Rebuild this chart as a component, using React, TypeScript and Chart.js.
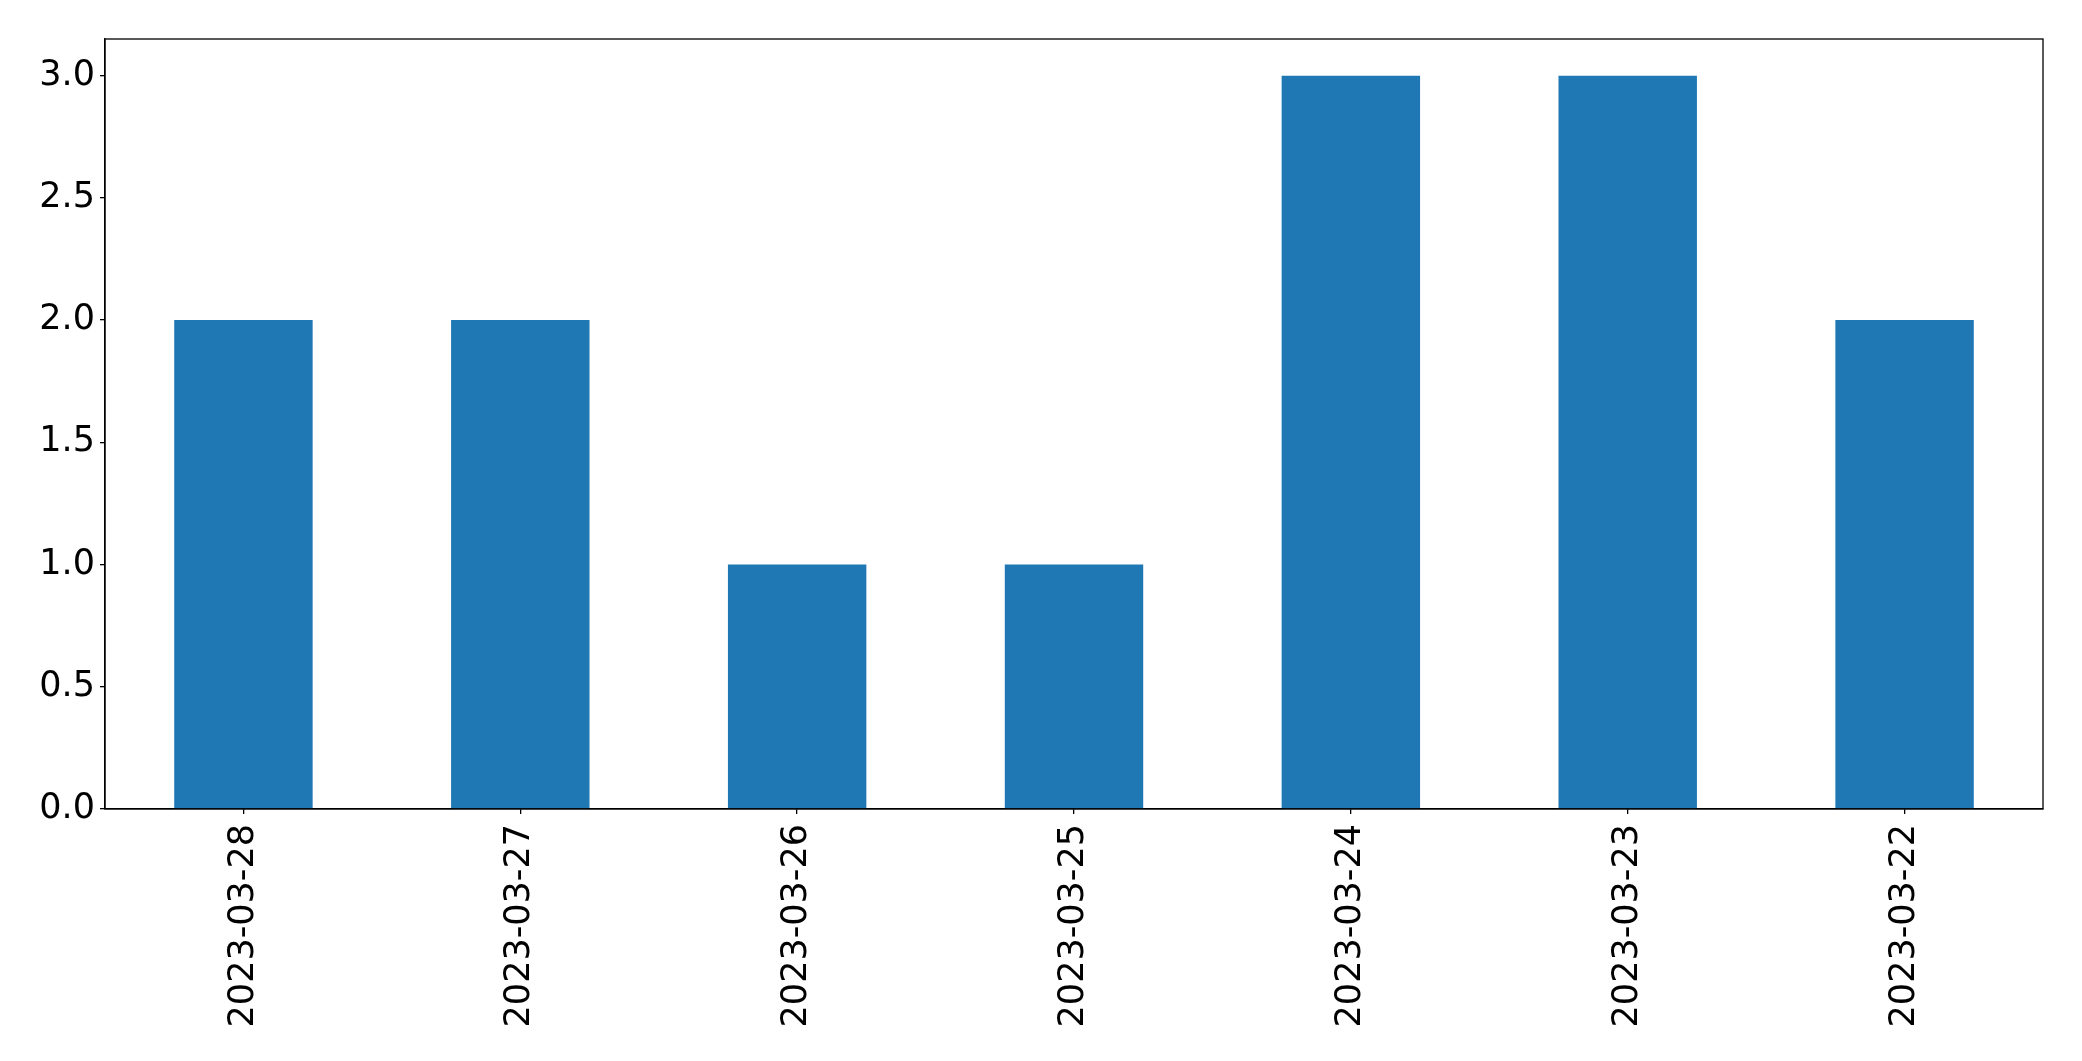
import React, { useEffect, useRef } from "react";
import { Chart, registerables } from "chart.js";

Chart.register(...registerables);

const categories = [
  "2023-03-28",
  "2023-03-27",
  "2023-03-26",
  "2023-03-25",
  "2023-03-24",
  "2023-03-23",
  "2023-03-22",
];
const values = [2, 2, 1, 1, 3, 3, 2];
const yTicks = [0, 0.5, 1, 1.5, 2, 2.5, 3];

const W = 2082;
const H = 1061;
const PLOT_LEFT = 105;
const PLOT_TOP = 39;
const PLOT_RIGHT = 2043;
const PLOT_BOTTOM = 809;

const frame = {
  id: "frame",
  afterDatasetsDraw(chart: any) {
    const { ctx, chartArea } = chart;
    ctx.save();
    ctx.strokeStyle = "#000";
    ctx.lineWidth = 1.3;
    ctx.strokeRect(chartArea.left, chartArea.top, chartArea.right - chartArea.left, chartArea.bottom - chartArea.top);
    ctx.restore();
  },
};

export default function App() {
  const ref = useRef<HTMLCanvasElement | null>(null);
  useEffect(() => {
    document.body.style.margin = "0";
    const font = { family: "'DejaVu Sans', sans-serif", size: 35 };
    const chart = new Chart(ref.current as HTMLCanvasElement, {
      type: "bar",
      data: {
        labels: categories,
        datasets: [
          {
            data: values,
            backgroundColor: "#1f77b4",
            barPercentage: 0.5,
            categoryPercentage: 1,
          },
        ],
      },
      options: {
        animation: false,
        responsive: false,
        maintainAspectRatio: false,
        layout: { padding: { left: 0, top: PLOT_TOP, right: W - PLOT_RIGHT, bottom: 0 } },
        plugins: { legend: { display: false }, tooltip: { enabled: false } },
        scales: {
          x: {
            grid: { display: true, offset: false, drawOnChartArea: false, drawTicks: true, tickLength: 5, color: "#000", lineWidth: 1.3 },
            border: { display: true, color: "#000", width: 1.3 },
            ticks: { color: "#000", font, minRotation: 90, maxRotation: 90, padding: 10, autoSkip: false },
            afterFit(scale: any) {
              scale.height = H - PLOT_BOTTOM;
            },
          },
          y: {
            min: 0,
            max: 3.15,
            grid: { display: true, drawOnChartArea: false, drawTicks: true, tickLength: 5, color: "#000", lineWidth: 1.3 },
            border: { display: true, color: "#000", width: 1.3 },
            ticks: {
              color: "#000",
              font,
              stepSize: 0.5,
              includeBounds: false,
              padding: 5,
              callback: (v: any) => Number(v).toFixed(1),
            },
            afterBuildTicks(scale: any) {
              scale.ticks = yTicks.map((v) => ({ value: v }));
            },
            afterFit(scale: any) {
              scale.width = PLOT_LEFT;
            },
          },
        },
      },
      plugins: [frame],
    });
    return () => chart.destroy();
  }, []);
  return (
    <div style={{ position: "absolute", left: 0, top: 0, width: W, height: H, background: "#fff" }}>
      <canvas ref={ref} width={W} height={H} style={{ width: W, height: H, display: "block" }} />
    </div>
  );
}
